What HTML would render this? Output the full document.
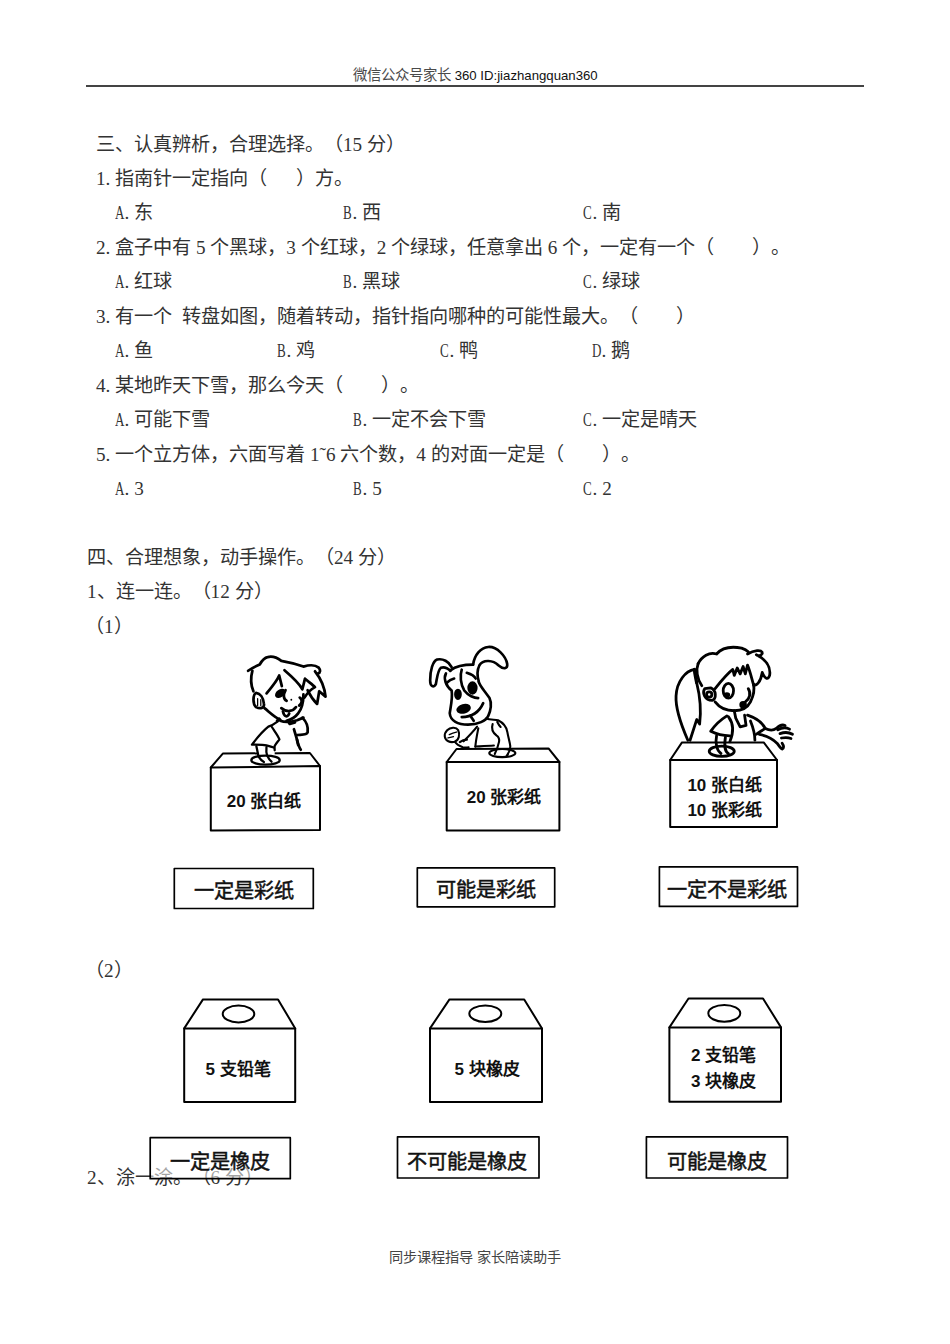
<!DOCTYPE html>
<html lang="zh-CN">
<head>
<meta charset="utf-8">
<style>
html,body{margin:0;padding:0;background:#fff;}
body{text-spacing-trim:space-all;width:950px;height:1344px;position:relative;overflow:hidden;font-family:"Liberation Serif",serif;color:#333;}
.l{position:absolute;font-size:19.16px;line-height:24px;white-space:pre;}
.hd{position:absolute;left:353px;top:66px;font-family:"Liberation Sans",sans-serif;font-size:14px;line-height:18px;color:#333;white-space:pre;}
.rule{position:absolute;left:86px;top:85px;width:778px;height:2px;background:#444;}
.ft{position:absolute;left:0;width:950px;top:1248px;text-align:center;font-size:14.2px;line-height:18px;color:#444;white-space:pre;}
.o{position:absolute;top:0;}
.n{display:inline-block;width:19.16px;}
.n i{font-style:normal;display:inline-block;width:9.58px;transform:scaleX(.68);transform-origin:0 50%;}
.s{display:inline-block;width:9.58px;}
</style>
</head>
<body>
<div class="hd"><span style="font-size:14.4px;color:#4a4a4a">微信公众号家长</span><span style="font-size:13.2px;letter-spacing:0;color:#111"> 360 ID:jiazhangquan360</span></div>
<div class="rule"></div>

<div class="l" style="left:96px;top:133px">三、认真辨析，合理选择。（15 分）</div>
<div class="l" style="left:96px;top:167px"><span class="n">1.</span>指南针一定指向（<span class="s"></span><span class="s"></span><span class="s"></span>）方。</div>
<div class="l" style="left:0;top:201px"><span class="o" style="left:115px"><span class="n"><i>A</i>.</span>东</span><span class="o" style="left:343px"><span class="n"><i>B</i>.</span>西</span><span class="o" style="left:583px"><span class="n"><i>C</i>.</span>南</span></div>
<div class="l" style="left:96px;top:236px"><span class="n">2.</span>盒子中有 5 个黑球，3 个红球，2 个绿球，任意拿出 6 个，一定有一个（　　）。</div>
<div class="l" style="left:0;top:270px"><span class="o" style="left:115px"><span class="n"><i>A</i>.</span>红球</span><span class="o" style="left:343px"><span class="n"><i>B</i>.</span>黑球</span><span class="o" style="left:583px"><span class="n"><i>C</i>.</span>绿球</span></div>
<div class="l" style="left:96px;top:305px"><span class="n">3.</span>有一个<span class="s"></span>转盘如图，随着转动，指针指向哪种的可能性最大。（　　）</div>
<div class="l" style="left:0;top:339px"><span class="o" style="left:115px"><span class="n"><i>A</i>.</span>鱼</span><span class="o" style="left:277px"><span class="n"><i>B</i>.</span>鸡</span><span class="o" style="left:440px"><span class="n"><i>C</i>.</span>鸭</span><span class="o" style="left:592px"><span class="n"><i>D</i>.</span>鹅</span></div>
<div class="l" style="left:96px;top:374px"><span class="n">4.</span>某地昨天下雪，那么今天（　　）。</div>
<div class="l" style="left:0;top:408px"><span class="o" style="left:115px"><span class="n"><i>A</i>.</span>可能下雪</span><span class="o" style="left:353px"><span class="n"><i>B</i>.</span>一定不会下雪</span><span class="o" style="left:583px"><span class="n"><i>C</i>.</span>一定是晴天</span></div>
<div class="l" style="left:96px;top:443px"><span class="n">5.</span>一个立方体，六面写着 1˜6 六个数，4 的对面一定是（　　）。</div>
<div class="l" style="left:0;top:477px"><span class="o" style="left:115px"><span class="n"><i>A</i>.</span>3</span><span class="o" style="left:353px"><span class="n"><i>B</i>.</span>5</span><span class="o" style="left:583px"><span class="n"><i>C</i>.</span>2</span></div>

<div class="l" style="left:87px;top:546px">四、合理想象，动手操作。（24 分）</div>
<div class="l" style="left:87px;top:580px">1、连一连。（12 分）</div>
<div class="l" style="left:85px;top:615px">（1）</div>
<div class="l" style="left:85px;top:959px">（2）</div>
<div class="l" style="left:87px;top:1166px">2、涂一涂。（6 分）</div>

<svg id="pic" width="950" height="1344" viewBox="0 0 950 1344" style="position:absolute;left:0;top:0">
<g fill="none" stroke="#000" stroke-width="2" stroke-linejoin="round" stroke-linecap="round"><!-- row1 boxes -->
<path d="M210.8,767.5 L222.8,753.6 L309.9,753 L320,766"/>
<path d="M210.8,767.5 L320,766 L320,830 L210.8,830.5 Z"/>
<path d="M446.7,762 L456.5,749 L548.5,748.4 L559.4,762"/>
<path d="M446.7,762 L559.4,762 L559.4,830.5 L446.7,830.5 Z"/>
<path d="M670.2,760 L682,742.4 L763.7,742.4 L777,760"/>
<path d="M670.2,760 L777,760 L777,827 L670.2,827 Z"/>
<!-- row1 labels -->
<rect x="174.3" y="868.5" width="139" height="40" stroke-width="1.7"/>
<rect x="417.3" y="867.9" width="137.4" height="38.9" stroke-width="1.7"/>
<rect x="659.4" y="866.8" width="138.1" height="39.6" stroke-width="1.7"/>
<!-- row2 boxes -->
<path d="M184.2,1028.4 L203,999.4 L278,999.4 L295.2,1028.4"/>
<path d="M184.2,1028.4 L295.2,1028.4 L295.2,1102 L184.2,1102 Z"/>
<ellipse cx="238.5" cy="1014" rx="15.8" ry="8.4"/>
<path d="M430,1028.4 L449.5,999.4 L524.2,999.4 L542,1028.4"/>
<path d="M430,1028.4 L542,1028.4 L542,1102 L430,1102 Z"/>
<ellipse cx="485.3" cy="1013.7" rx="16" ry="8.2"/>
<path d="M669.4,1027.4 L688.5,998.5 L763,998.5 L781,1027.4"/>
<path d="M669.4,1027.4 L781,1027.4 L781,1101.7 L669.4,1101.7 Z"/>
<ellipse cx="724.3" cy="1013.3" rx="16" ry="8.4"/>
<!-- row2 labels -->
<rect x="150.2" y="1137.7" width="140.1" height="41" stroke-width="1.7" fill="#fff" fill-opacity="0.55"/>
<rect x="397.5" y="1136.8" width="141.5" height="41.2" stroke-width="1.7"/>
<rect x="646.4" y="1136.8" width="141.1" height="41.2" stroke-width="1.7"/>
</g>
<!-- boy -->
<g transform="translate(235,645) scale(0.105263)" fill="none" stroke="#000" stroke-width="26" stroke-linecap="round" stroke-linejoin="round">
<path d="M125,245 C150,225 190,205 235,185 C255,150 280,120 310,115 C350,105 400,120 440,150 C500,160 580,180 650,205 C700,190 760,185 795,215 C815,240 810,265 790,270"/>
<path d="M760,250 C800,300 850,380 860,490 L800,440 L780,560 C740,520 710,470 690,430"/>
<path d="M165,245 C150,300 150,380 175,440"/>
<path d="M200,455 C170,470 165,560 200,590 C240,610 280,600 275,560 C270,500 240,460 200,455 Z"/>
<path d="M215,510 L215,575 M245,520 L245,575" stroke-width="12"/>
<path d="M280,600 C330,640 380,690 430,710"/>
<path d="M300,460 C350,400 400,340 420,290 C430,330 440,370 445,390"/>
<path d="M470,240 C540,300 600,350 640,420 C650,380 660,340 665,320 C700,350 740,380 760,400 C720,420 690,450 660,500"/>
<path d="M650,470 C650,540 640,600 600,650 C570,690 530,710 490,720"/>
<ellipse cx="430" cy="460" rx="42" ry="24" transform="rotate(-35 430 460)" fill="#000"/>
<path d="M480,430 C455,470 460,515 490,530"/>
<path d="M615,500 C645,520 635,560 610,575" stroke-width="26"/>
<circle cx="535" cy="520" r="9" fill="#000" stroke="none"/>
<path d="M440,600 C490,640 550,635 580,590"/>
<path d="M455,630 C465,675 495,700 515,650"/>
<path d="M400,720 L420,700 M430,720 C480,740 540,730 590,715 L650,690"/>
<path d="M500,720 L520,750 L570,735"/>
<path d="M640,690 C670,720 700,760 690,830 C680,860 620,850 590,855"/>
<path d="M560,800 C580,860 590,900 600,950"/>
</g>
<g transform="translate(235,715) scale(0.105263)" fill="none" stroke="#000" stroke-width="26" stroke-linecap="round" stroke-linejoin="round">
<path d="M590,235 C600,280 610,310 625,330"/>
</g>
<g transform="translate(245,715) scale(0.063158)" fill="none" stroke="#000" stroke-width="36" stroke-linecap="round" stroke-linejoin="round">
<rect x="190" y="555" width="280" height="85" fill="#fff" stroke="none"/>
<path d="M520,100 C480,130 440,160 370,185 C300,240 200,350 110,470 C200,470 290,468 340,480 C380,490 420,500 455,515"/>
<path d="M425,190 C470,260 520,320 545,385 C520,420 490,450 470,490 C465,520 470,545 470,560"/>
<path d="M180,495 C195,560 205,620 215,660 C240,700 270,730 300,745"/>
<path d="M340,510 C335,560 335,600 350,640 C370,680 395,720 420,740"/>
<ellipse cx="325" cy="715" rx="225" ry="72"/>
</g>
<!-- dog -->
<g transform="translate(415,640) scale(0.126316)" fill="none" stroke="#000" stroke-width="21" stroke-linecap="round" stroke-linejoin="round">
<path d="M290,215 C270,170 220,145 175,155 C140,170 120,240 120,320 C120,370 150,380 165,350 C175,300 180,240 205,220 C240,210 270,230 280,245"/>
<path d="M460,195 C470,120 520,60 580,55 C650,50 720,130 730,190 C735,230 700,235 660,200 C620,160 540,150 510,200 C490,240 490,280 505,330"/>
<path d="M280,240 C320,210 390,195 460,195"/>
<path d="M245,265 C225,300 240,360 290,400 C300,460 280,540 275,580 C280,640 340,670 420,670 C500,670 560,640 580,600 C600,560 610,500 590,460 C550,400 510,360 505,330"/>
<path d="M370,235 C355,280 360,350 390,400 C420,440 470,460 500,460"/>
<path d="M410,260 C440,270 470,285 480,305"/>
<path d="M250,340 C270,320 290,310 310,305"/>
<ellipse cx="455" cy="380" rx="30" ry="42" fill="#000"/>
<ellipse cx="340" cy="430" rx="20" ry="34" fill="#000"/>
<ellipse cx="385" cy="545" rx="48" ry="27" transform="rotate(-15 385 545)" fill="#000"/>
<path d="M370,610 C430,610 500,590 540,500"/>
<path d="M440,600 C450,620 460,630 465,640"/>











</g>
<g transform="translate(440,695) scale(0.084211)" fill="none" stroke="#000" stroke-width="25" stroke-linecap="round" stroke-linejoin="round">
<path d="M440,375 C390,440 330,500 280,550"/>
<path d="M455,395 C440,470 425,540 420,615"/>
<path d="M545,280 C600,300 650,290 690,300 C750,330 790,380 800,440 C810,500 830,560 835,610 C835,660 810,700 790,725"/>
<path d="M625,345 C610,390 620,440 670,480 C700,500 710,520 700,560 C690,610 670,660 650,700"/>
<path d="M680,320 C690,340 700,360 720,380"/>
<ellipse cx="740" cy="690" rx="155" ry="48"/>
<path d="M85,420 C120,385 190,375 215,415 C240,470 225,535 175,555 C120,570 65,545 57,495 C52,460 65,440 85,420 Z"/>
<path d="M110,470 C140,455 170,445 195,440 M95,510 C120,505 140,500 160,495" stroke-width="16"/>
<path d="M175,555 C200,590 240,610 270,620 C300,625 320,625 340,620"/>
<path d="M235,560 C260,540 290,530 320,530"/>
<path d="M420,612 C500,608 570,605 640,600"/>
</g>
<!-- girl -->
<g transform="translate(665,640) scale(0.147368)" fill="none" stroke="#000" stroke-width="19" stroke-linecap="round" stroke-linejoin="round">
<path d="M225,160 C250,110 300,80 350,95 C380,60 440,40 520,55 C560,70 580,90 560,95 C600,70 660,60 660,90 C650,110 630,110 620,100 C680,130 720,180 710,240 C700,270 680,270 660,220 C650,280 620,320 600,300"/>
<path d="M340,330 C380,280 420,230 460,200 L470,240 L490,190 L510,230 L530,180 L545,230 L560,170 C580,220 590,270 600,300"/>
<path d="M225,160 C210,200 215,260 250,310"/>
<path d="M270,330 C250,360 270,410 320,410 C350,400 350,340 310,325 Z"/>
<circle cx="300" cy="370" r="18"/>
<path d="M340,420 C370,460 420,480 470,480 C520,480 560,460 580,420 C600,380 610,340 600,300"/>
<path d="M565,330 C585,360 575,400 545,420"/>
<circle cx="530" cy="440" r="16" fill="#000"/>
<ellipse cx="430" cy="345" rx="35" ry="50"/>
<ellipse cx="420" cy="372" rx="13" ry="8" fill="#000"/>
<path d="M200,200 C140,210 80,280 75,380 C70,470 120,600 155,680"/>
<path d="M200,200 C200,230 210,260 215,290" stroke-width="22"/>
<path d="M215,290 C230,350 250,450 235,570 L215,540 L170,680"/>
<path d="M470,480 L480,530 L510,590 L550,580 L540,510"/>
<path d="M420,515 C380,540 330,590 310,620 C350,640 400,650 440,650"/>
<path d="M430,520 C460,560 470,620 440,690"/>
<path d="M560,510 C620,530 660,560 680,600 C650,620 630,630 620,640"/>
<path d="M580,550 C600,600 610,640 610,680"/>
<path d="M640,640 C690,650 730,670 760,700 C775,720 785,735 795,740 C810,735 805,715 795,700"/>
<path d="M680,600 C710,615 735,615 755,600 C770,585 790,570 815,580"/>
<path d="M765,610 C790,595 820,590 845,605"/>
<path d="M780,635 C810,625 840,625 865,640"/>
<path d="M790,665 C815,660 835,660 855,668"/>


<path d="M350,650 C340,700 350,750 380,770"/>
<path d="M410,660 C400,720 410,760 430,770"/>
<ellipse cx="385" cy="755" rx="85" ry="35"/>
</g>
<g font-family="Liberation Sans, sans-serif" font-weight="bold" fill="#111" text-anchor="middle">
<text x="264" y="807" font-size="17">20 张白纸</text>
<text x="504" y="803" font-size="17">20 张彩纸</text>
<text x="724.7" y="791" font-size="17">10 张白纸</text>
<text x="724.7" y="815.5" font-size="17">10 张彩纸</text>
<text x="238" y="1075" font-size="17">5 支铅笔</text>
<text x="487" y="1074.5" font-size="17">5 块橡皮</text>
<text x="723.7" y="1060.7" font-size="17">2 支铅笔</text>
<text x="723.7" y="1087" font-size="17">3 块橡皮</text>
</g>
<g font-family="Liberation Sans, sans-serif" font-weight="500" fill="#111" stroke="#111" stroke-width="0.5" text-anchor="middle" font-size="20.2">
<text x="243.8" y="898">一定是彩纸</text>
<text x="486" y="897">可能是彩纸</text>
<text x="727" y="897">一定不是彩纸</text>
<text x="220" y="1169">一定是橡皮</text>
<text x="467" y="1169">不可能是橡皮</text>
<text x="717" y="1169">可能是橡皮</text>
</g>
</svg>
<div class="ft">同步课程指导 家长陪读助手</div>
</body>
</html>
